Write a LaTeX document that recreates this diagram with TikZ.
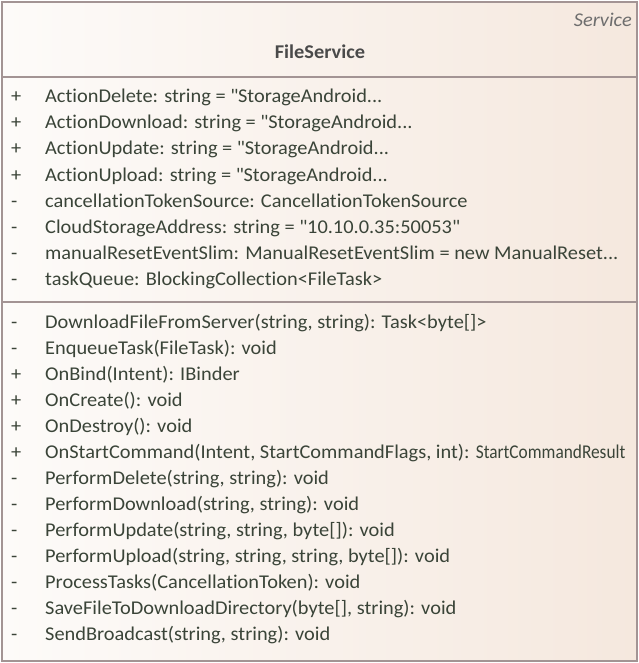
\documentclass[tikz,border=0pt]{standalone}
\usepackage{fontspec}
\setmainfont{Carlito}[FakeStretch=1.045, Ligatures={NoCommon}]
\definecolor{boxline}{HTML}{A39494}
\definecolor{txt}{HTML}{3A4438}
\definecolor{hdr}{HTML}{4A4A4A}
\definecolor{fillL}{HTML}{FDFBF9}
\definecolor{fillR}{HTML}{F5E8DE}
\newcommand{\qq}{\textquotedbl}
\begin{document}
\begin{tikzpicture}[x=1pt,y=-1pt,
  member/.style={anchor=base west, inner sep=0pt, text=txt, font=\fontsize{19.5}{22}\selectfont},
  vis/.style={anchor=base west, inner sep=0pt, text=txt, font=\fontsize{19.5}{22}\selectfont},
  sep/.style={draw=boxline, line width=2pt}]
\useasboundingbox (0,0) rectangle (638,663);
\fill[white] (0,0) rectangle (638,663);
\shade[left color=fillL, right color=fillR] (1.5,2.5) rectangle (636.5,660.5);
\draw[sep] (1.5,2.5) rectangle (636.5,660.5);
\coordinate (d1l) at (1.5,77); \coordinate (d1r) at (636.5,77);
\coordinate (d2l) at (1.5,302); \coordinate (d2r) at (636.5,302);
\draw[sep] (d1l) -- (d1r);
\draw[sep] (d2l) -- (d2r);
\node[anchor=base east, inner sep=0pt, text=hdr!80!white, font=\fontsize{19.5}{22}\selectfont\itshape] (stereo) at (632,27) {Service};
\node[anchor=base, inner sep=0pt, text=hdr, font=\fontsize{19.5}{22}\selectfont\bfseries] (name) at (320,59) {FileService};
% attributes
\foreach \v/\t [count=\i from 0] in {
 +/{ActionDelete: string = \qq StorageAndroid...},
 +/{ActionDownload: string = \qq StorageAndroid...},
 +/{ActionUpdate: string = \qq StorageAndroid...},
 +/{ActionUpload: string = \qq StorageAndroid...},
 -/{cancellationTokenSource: CancellationTokenSource},
 -/{CloudStorageAddress: string = \qq 10.10.0.35:50053\qq},
 -/{manualResetEventSlim: ManualResetEventSlim = new ManualReset...},
 -/{taskQueue: BlockingCollection<FileTask>}}{
  \node[vis] (av\i) at (11,103+26*\i) {\v};
  \node[member] (a\i) at (45,103+26*\i) {\t};
}
% operations
\foreach \v/\t [count=\i from 0] in {
 -/{DownloadFileFromServer(string, string): Task<byte[]>},
 -/{EnqueueTask(FileTask): void},
 +/{OnBind(Intent): IBinder},
 +/{OnCreate(): void},
 +/{OnDestroy(): void},
 +/{OnStartCommand(Intent, StartCommandFlags, int): \scalebox{0.85}[1]{StartCommandResult}},
 -/{PerformDelete(string, string): void},
 -/{PerformDownload(string, string): void},
 -/{PerformUpdate(string, string, byte[]): void},
 -/{PerformUpload(string, string, string, byte[]): void},
 -/{ProcessTasks(CancellationToken): void},
 -/{SaveFileToDownloadDirectory(byte[], string): void},
 -/{SendBroadcast(string, string): void}}{
  \node[vis] (ov\i) at (11,328+26*\i) {\v};
  \node[member] (o\i) at (45,328+26*\i) {\t};
}
\end{tikzpicture}
\end{document}
